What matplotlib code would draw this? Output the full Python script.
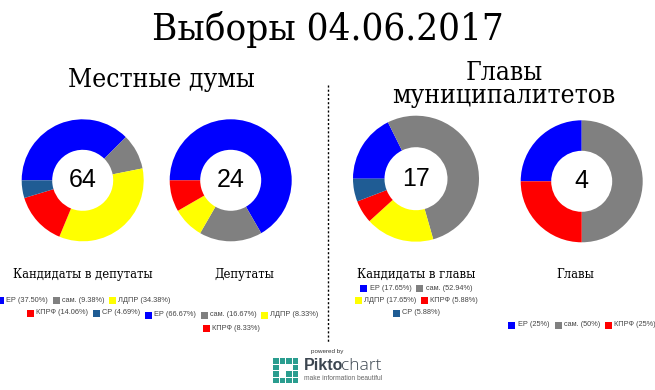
import matplotlib
matplotlib.use("Agg")
import matplotlib.pyplot as plt
from matplotlib.patches import Rectangle

W, H = 655, 390

party_colors = {"ЕР": "#0000ff", "сам.": "#808080", "ЛДПР": "#ffff00", "КПРФ": "#ff0000", "СР": "#1f5c94"}

# percent shares, in drawing order
candidates_local = [37.50, 9.38, 34.38, 14.06, 4.69]
deputies_local = [66.67, 16.67, 8.33, 8.33]
candidates_heads = [17.65, 52.94, 17.65, 5.88, 5.88]
heads = [25, 50, 25]

local_names = ["ЕР", "сам.", "ЛДПР", "КПРФ", "СР"]
deputies_names = ["ЕР", "сам.", "ЛДПР", "КПРФ"]
cand_heads_names = ["ЕР", "сам.", "ЛДПР", "КПРФ", "СР"]
heads_names = ["ЕР", "сам.", "КПРФ"]

totals = [64, 24, 17, 4]
titles = ["Кандидаты в депутаты", "Депутаты", "Кандидаты в главы", "Главы"]

fig = plt.figure(figsize=(W / 100, H / 100), dpi=100, facecolor="white")
bg = fig.add_axes([0, 0, 1, 1])
bg.set_xlim(0, W)
bg.set_ylim(H, 0)
bg.axis("off")

SERIF = {"family": "DejaVu Serif", "stretch": "condensed"}


def donut(cx, cy, r, values, names, total):
    ax = fig.add_axes([(cx - r) / W, 1 - (cy + r) / H, 2 * r / W, 2 * r / H])
    ax.pie(values, colors=[party_colors[n] for n in names], startangle=180,
           counterclock=False, radius=1, wedgeprops={"width": 0.5})
    ax.set_xlim(-1, 1)
    ax.set_ylim(-1, 1)
    ax.text(0, 0, str(total), ha="center", va="center", fontsize=18,
            family="Liberation Sans", color="black")


def fmt(v):
    if v == int(v):
        return "%d%%" % v
    return "%.2f%%" % v


def legend_row(x0s, y, names, values):
    for x0, n, v in zip(x0s, names, values):
        bg.add_patch(Rectangle((x0, y - 3.5), 7, 7, color=party_colors[n], lw=0))
        bg.text(x0 + 9.5, y, "%s (%s)" % (n, fmt(v)), fontsize=5.3, family="Liberation Sans",
                color="#444444", va="center", ha="left")


donut(82.7, 180.3, 61, candidates_local, local_names, totals[0])
donut(230.7, 180.3, 61, deputies_local, deputies_names, totals[1])
donut(416, 178.7, 63, candidates_heads, cand_heads_names, totals[2])
donut(581.7, 181.3, 61, heads, heads_names, totals[3])

# headings
bg.text(328, 30, "Выборы 04.06.2017", fontsize=27.5, ha="center", va="center", **SERIF)
bg.text(161, 79, "Местные думы", fontsize=19, ha="center", va="center", **SERIF)
bg.text(504, 72, "Главы", fontsize=19, ha="center", va="center", **SERIF)
bg.text(504, 95, "муниципалитетов", fontsize=19, ha="center", va="center", **SERIF)

for x, t in zip([83, 244, 416, 575], titles):
    bg.text(x, 274.5, t, fontsize=9.3, ha="center", va="center", **SERIF)

# legends
legend_row([-3, 53, 109], 300.5, local_names[:3], candidates_local[:3])
legend_row([26.5, 92.5], 313, local_names[3:], candidates_local[3:])
legend_row([144.5, 200.5, 261], 315, deputies_names[:3], deputies_local[:3])
legend_row([202.5], 328, deputies_names[3:], deputies_local[3:])
legend_row([360, 416], 288, cand_heads_names[:2], candidates_heads[:2])
legend_row([354.5, 420.5], 300.5, cand_heads_names[2:4], candidates_heads[2:4])
legend_row([392.5], 313, cand_heads_names[4:], candidates_heads[4:])
legend_row([508, 554.5, 604.5], 325, heads_names, heads)

# divider
bg.plot([327.5, 327.5], [85, 343], color="black", lw=1, ls=(0, (1.5, 1.5)))

# footer
bg.text(327, 352, "powered by", fontsize=4.5, family="Liberation Sans", color="#333333", ha="center", va="center")
bg.text(304, 366, "Pikto", fontsize=11.5, family="Liberation Sans", weight="bold", color="#3c4650", ha="left", va="center")
bg.text(341, 366, "chart", fontsize=12.5, family="Open Sans", weight="light", color="#3c4650", ha="left", va="center")
bg.text(304, 379, "make information beautiful", fontsize=4.8, family="Liberation Sans", color="#666666", ha="left", va="center")

# logo squares
teal = "#2a9d8f"
for i in range(4):
    for j in range(4):
        if i in (0, 3) or j in (0, 3):
            bg.add_patch(Rectangle((273 + i * 6.5, 358 + j * 6.5), 5.5, 5.5, color=teal, lw=0))
bg.add_patch(Rectangle((286, 371), 5.5, 5.5, color=teal, lw=0))

fig.savefig("out.png", dpi=100)
